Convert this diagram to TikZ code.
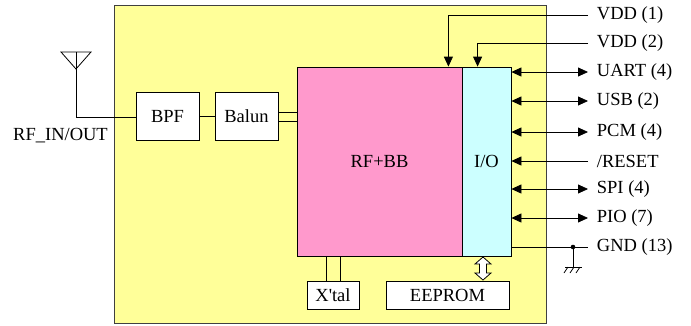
\documentclass[tikz,border=0pt]{standalone}
\usepackage{fontspec}
\setmainfont{Liberation Serif}
\usetikzlibrary{arrows.meta,calc}
\definecolor{chipyellow}{HTML}{FFFF99}
\definecolor{rfpink}{HTML}{FF99CC}
\definecolor{iocyan}{HTML}{CCFFFF}
\begin{document}
\begin{tikzpicture}[x=1pt,y=-1pt,
  font=\fontsize{18.5}{20}\selectfont,
  line width=0.8pt,
  blk/.style={draw, fill=white, inner sep=0pt},
  tip/.style={-{Triangle[length=10pt,width=9pt]}},
  dtip/.style={{Triangle[length=10pt,width=9pt]}-{Triangle[length=10pt,width=9pt]}},
  pinlabel/.style={anchor=west, inner xsep=8.5pt, inner ysep=2pt}]
\useasboundingbox (0,0) rectangle (691,325);
% chip outline
\node[draw=black!75, line width=1.2pt, fill=chipyellow, minimum width=432pt,
      minimum height=318pt, anchor=north west, inner sep=0pt] (chip) at (114,5) {};
% blocks
\node[blk, minimum width=63pt, minimum height=48pt] (bpf) at (167.5,116) {BPF};
\node[blk, minimum width=63pt, minimum height=48pt] (balun) at (246.5,116) {Balun};
\node[draw, fill=rfpink, minimum width=165pt, minimum height=189pt, inner sep=0pt] (rfbb) at (379.5,161.5) {RF+BB};
\node[draw, fill=iocyan, minimum width=49pt, minimum height=189pt, inner sep=0pt] (io) at (486.5,161.5) {I/O};
\node[blk, minimum width=52pt, minimum height=28pt] (xtal) at (333,295) {X\textquotesingle tal};
\node[blk, minimum width=123pt, minimum height=28pt] (eeprom) at (447.5,295) {EEPROM};
% antenna
\coordinate (anttop) at (76,52);
\coordinate (antapex) at (76,69);
\draw (61,52) -- (91,52) -- (antapex) -- cycle;
\draw (anttop) -- (76,117) -- (bpf.west |- 0,117);
\node (rflabel) at (60.5,136) {RF\_IN/OUT};
\draw (bpf.east) -- (balun.west);
\draw (balun.east |- 0,112) -- (rfbb.west |- 0,112);
\draw (balun.east |- 0,121) -- (rfbb.west |- 0,121);
% crystal
\draw (xtal.north -| 326,0) -- (rfbb.south -| 326,0);
\draw (xtal.north -| 340,0) -- (rfbb.south -| 340,0);
% pin labels
\node[pinlabel] (vdd1) at (588,15) {VDD (1)};
\node[pinlabel] (vdd2) at (588,43) {VDD (2)};
\node[pinlabel] (uart) at (588,72) {UART (4)};
\node[pinlabel] (usb) at (588,101) {USB (2)};
\node[pinlabel] (pcm) at (588,132) {PCM (4)};
\node[pinlabel] (reset) at (588,161) {/RESET};
\node[pinlabel] (spi) at (588,189) {SPI (4)};
\node[pinlabel] (pio) at (588,218) {PIO (7)};
\node[pinlabel] (gnd) at (588,247) {GND (13)};
% supply arrows
\coordinate (v1) at ([xshift=-14pt]rfbb.north east);
\coordinate (v2) at ([xshift=16pt]io.north west);
\draw[tip] (vdd1.west) -| (v1);
\draw[tip] (vdd2.west) -| (v2);
% I/O pins
\draw[dtip] (io.east |- uart.west) -- (uart.west);
\draw[dtip] (io.east |- usb.west) -- (usb.west);
\draw[dtip] (io.east |- pcm.west) -- (pcm.west);
\draw[tip] (reset.west) -- (io.east |- reset.west);
\draw[dtip] (io.east |- spi.west) -- (spi.west);
\draw[dtip] (io.east |- pio.west) -- (pio.west);
\draw (io.east |- gnd.west) -- (gnd.west);
% ground
\coordinate (gj) at (573,247);
\coordinate (gb) at (573,267);
\fill (gj) circle (2.3pt);
\draw (gj) -- (gb);
\draw (565,267) -- (582,267);
\foreach \hx in {568,574,580} \draw (\hx,267) -- (\hx-4,273);
% EEPROM bus arrow
\draw[fill=white] (483,257) -- (491,264) -- (486.5,264) -- (486.5,273) -- (491,273)
  -- (483,280) -- (475,273) -- (479.5,273) -- (479.5,264) -- (475,264) -- cycle;
\end{tikzpicture}
\end{document}
